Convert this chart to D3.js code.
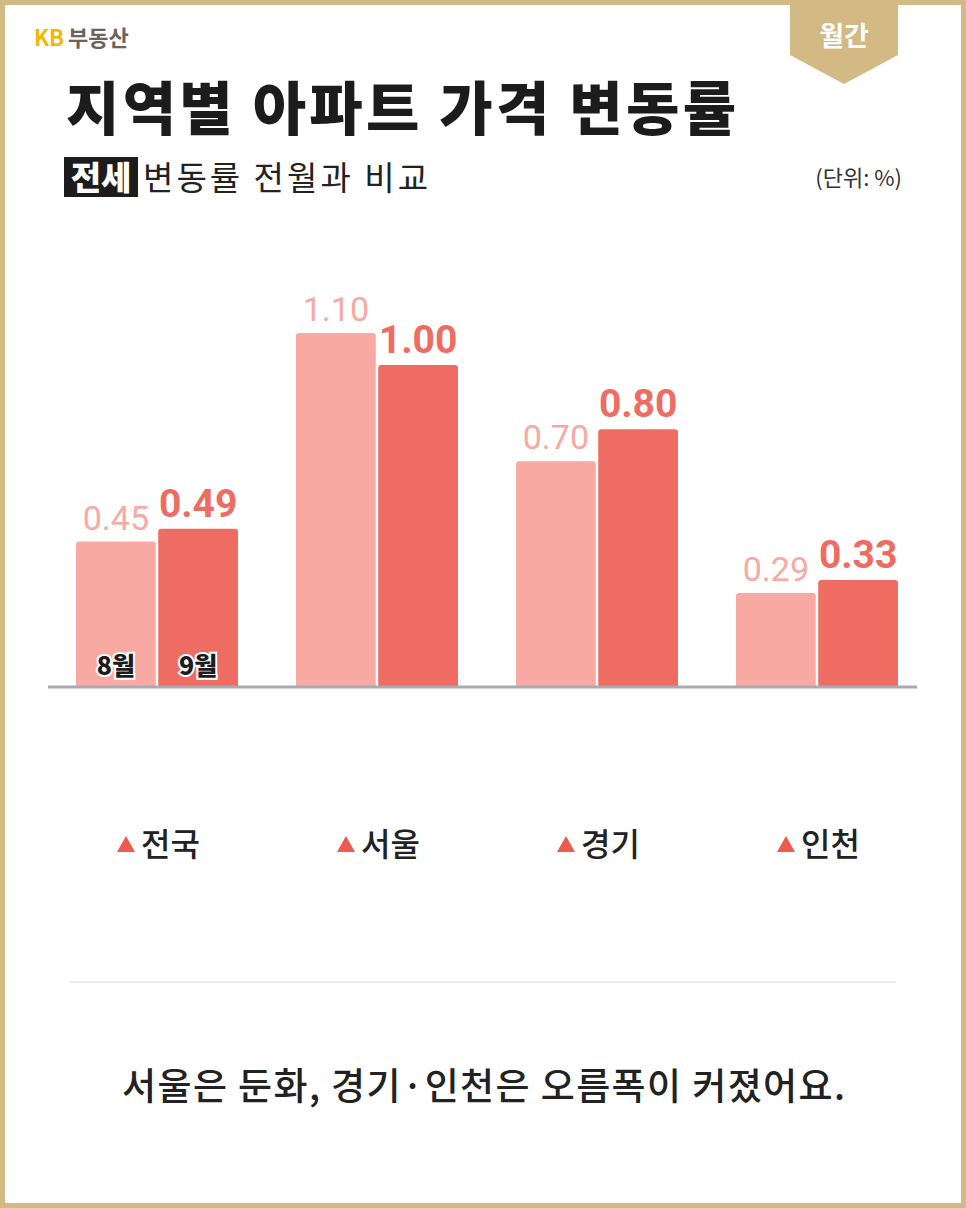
<!DOCTYPE html>
<html><head><meta charset="utf-8">
<script src="https://cdn.jsdelivr.net/npm/d3@7"></script>
<style>body{margin:0;background:#fff}svg{display:block;font-family:"Noto Sans CJK KR","Noto Sans",sans-serif}</style>
</head><body><svg id="c" width="966" height="1208"></svg>
<script>
const regions = ["전국", "서울", "경기", "인천"];
const months = ["8월", "9월"];
const aug = [0.45, 1.10, 0.70, 0.29];
const sep = [0.49, 1.00, 0.80, 0.33];

const svg = d3.select("#c");
const gold = "#d3b983";
svg.append("rect").attr("x", 2.5).attr("y", 2.5).attr("width", 961).attr("height", 1203)
  .attr("fill", "#fff").attr("stroke", gold).attr("stroke-width", 5);

// badge
svg.append("path").attr("d", "M790,0H898V55L844,84L790,55Z").attr("fill", gold);
svg.append("text").attr("x", 844).attr("y", 46).attr("text-anchor", "middle")
  .attr("font-size", 27).attr("font-weight", 700).attr("fill", "#fff").text("월간");

svg.append("text").attr("x", 34).attr("y", 46).attr("font-size", 22).attr("font-weight", 700)
  .attr("fill", "#f2b705").text("KB").append("tspan").attr("fill", "#6d625c").attr("dx", 4).text("부동산");

svg.append("text").attr("x", 66).attr("y", 130).attr("font-size", 58).attr("font-weight", 900)
  .attr("fill", "#1c1c1c").attr("textLength", 670).text("지역별 아파트 가격 변동률");

svg.append("rect").attr("x", 64).attr("y", 157).attr("width", 74).attr("height", 40).attr("fill", "#1c1c1c");
svg.append("text").attr("x", 101).attr("y", 190).attr("text-anchor", "middle").attr("font-size", 33)
  .attr("font-weight", 900).attr("fill", "#fff").text("전세");
svg.append("text").attr("x", 143).attr("y", 190).attr("font-size", 33).attr("fill", "#222")
  .attr("textLength", 285).text("변동률 전월과 비교");
svg.append("text").attr("x", 902).attr("y", 186).attr("text-anchor", "end").attr("font-size", 22)
  .attr("fill", "#333").text("(단위: %)");

// chart
const base = 686;
const x0 = d3.scalePoint().domain(regions).range([157, 817]);
const x1 = d3.scaleBand().domain(months).range([-81, 81]).paddingInner(0.03);
const y = d3.scaleLinear().domain([0, 1.1]).range([base, 333]);
const colors = {"8월": "#f8a9a1", "9월": "#ee6c62"};

const data = regions.map((r, i) => ({ r, vals: [{ m: "8월", v: aug[i] }, { m: "9월", v: sep[i] }] }));
const g = svg.selectAll("g.grp").data(data).enter().append("g")
  .attr("transform", d => `translate(${x0(d.r)},0)`);

g.selectAll("path").data(d => d.vals).enter().append("path")
  .attr("fill", d => colors[d.m])
  .attr("d", d => {
    const x = x1(d.m), w = x1.bandwidth(), t = y(d.v), r = 3;
    return `M${x},${base}V${t + r}Q${x},${t} ${x + r},${t}H${x + w - r}Q${x + w},${t} ${x + w},${t + r}V${base}Z`;
  });

g.selectAll("text.val").data(d => d.vals).enter().append("text")
  .attr("x", d => x1(d.m) + x1.bandwidth() / 2).attr("y", d => y(d.v) - 12)
  .attr("text-anchor", "middle").attr("font-family", "Roboto, sans-serif")
  .attr("font-size", d => d.m === "9월" ? 39 : 34).attr("font-weight", d => d.m === "9월" ? 700 : 400)
  .attr("fill", d => colors[d.m]).text(d => d.v.toFixed(2));

// month labels in first group
g.filter((d, i) => i === 0).selectAll("text.m").data(months).enter().append("text")
  .attr("x", m => x1(m) + x1.bandwidth() / 2).attr("y", 675).attr("text-anchor", "middle")
  .attr("font-size", 25).attr("font-weight", 900).attr("fill", "#1c1c1c")
  .attr("stroke", "#fff").attr("stroke-width", 4).attr("paint-order", "stroke").text(m => m);

svg.append("line").attr("x1", 48).attr("x2", 917).attr("y1", base + 1).attr("y2", base + 1)
  .attr("stroke", "#a9aab2").attr("stroke-width", 3);

// region labels
const lab = svg.selectAll("g.lab").data(regions).enter().append("g")
  .attr("transform", r => `translate(${x0(r) + 4},0)`);
lab.append("path").attr("d", "M-44,852L-35,836L-26,852Z").attr("fill", "#ef5a4f");
lab.append("text").attr("x", -20).attr("y", 856).attr("font-size", 32).attr("font-weight", 500)
  .attr("fill", "#222").text(r => r);

svg.append("line").attr("x1", 70).attr("x2", 896).attr("y1", 982).attr("y2", 982)
  .attr("stroke", "#e8ebf5").attr("stroke-width", 2);
svg.append("text").attr("x", 122).attr("y", 1100).attr("font-size", 37)
  .attr("font-weight", 500).attr("fill", "#222").attr("textLength", 723)
  .text("서울은 둔화, 경기·인천은 오름폭이 커졌어요.");
</script></body></html>
